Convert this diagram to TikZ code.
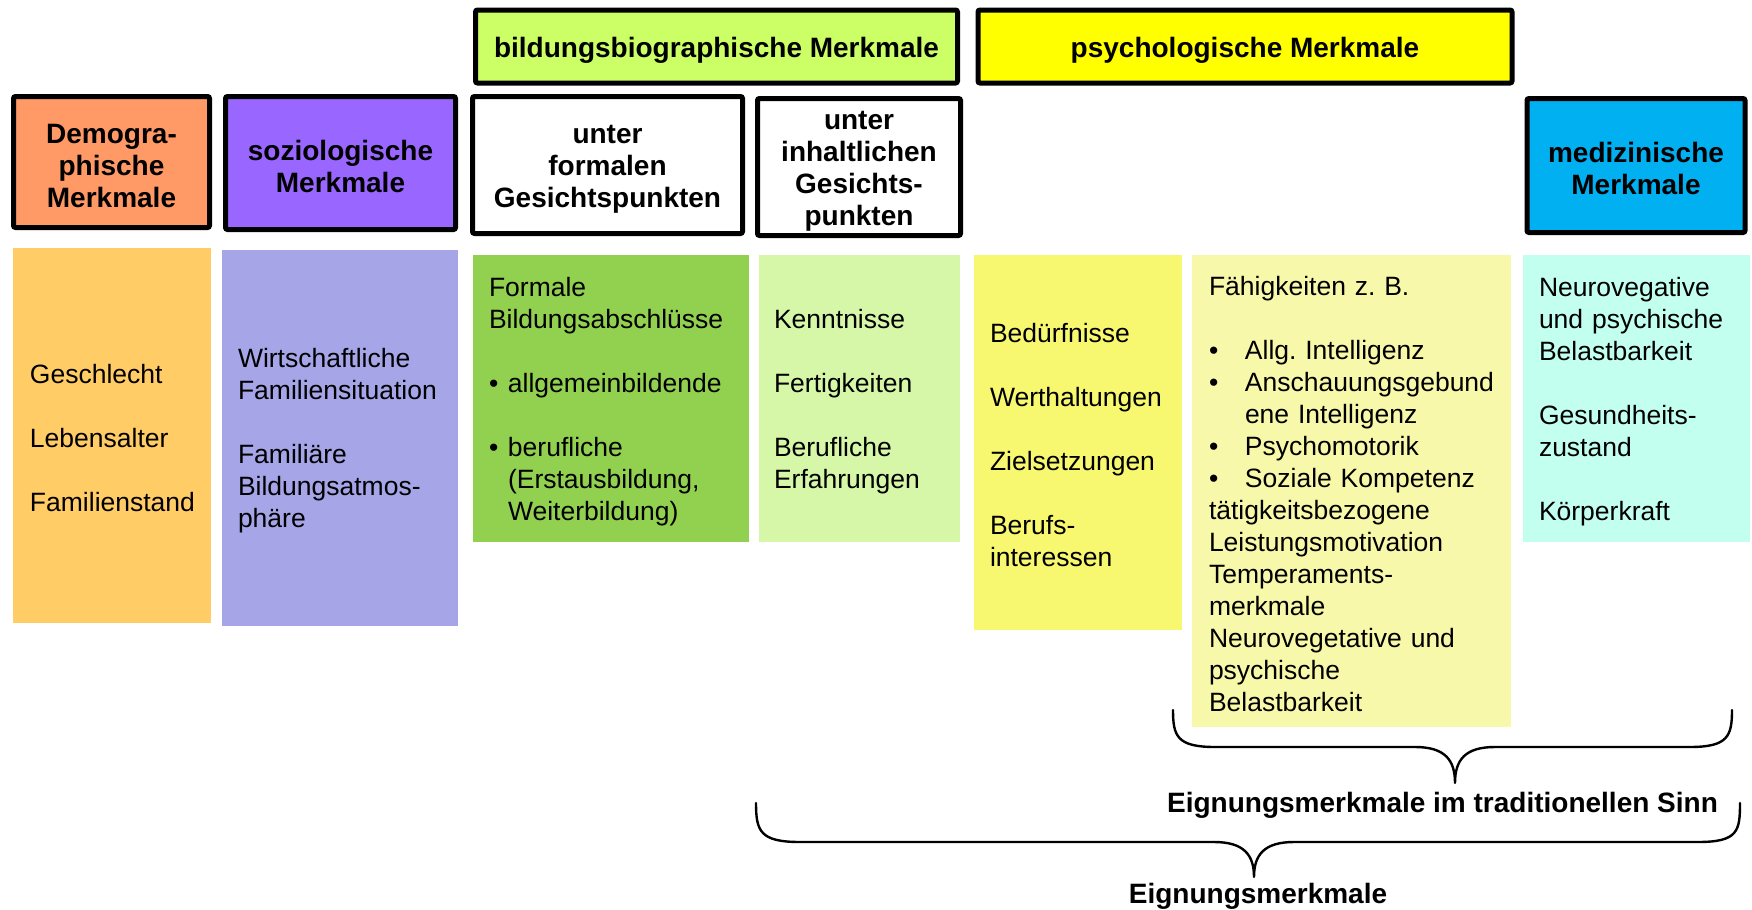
\documentclass[tikz,border=0pt]{standalone}
\usepackage{fontspec}
\setmainfont{Liberation Sans}
\hyphenpenalty=10000
\exhyphenpenalty=10000
\frenchspacing
\definecolor{demoHdr}{HTML}{FF9966}
\definecolor{soziHdr}{HTML}{9966FF}
\definecolor{bildHdr}{HTML}{CCFF66}
\definecolor{psyHdr}{HTML}{FFFF00}
\definecolor{medHdr}{HTML}{00B0F0}
\definecolor{orangeC}{HTML}{FFCC66}
\definecolor{lavC}{HTML}{A5A5E8}
\definecolor{greenC}{HTML}{92D050}
\definecolor{lgreenC}{HTML}{D6F7A8}
\definecolor{yellowC}{HTML}{F8F870}
\definecolor{pyellowC}{HTML}{F8F8AA}
\definecolor{cyanC}{HTML}{C2FFEF}
\newcommand{\gbul}{\makebox[9.5pt][l]{•}}
\newcommand{\pbul}{\makebox[18pt][l]{•}}
\newcommand{\ctopstrut}{\rule{0pt}{12.3pt}}
\newcommand{\htopstrut}{\rule{0pt}{13.5pt}}
\newcommand{\sgltopstrut}{\rule{0pt}{14.2pt}}
\begin{document}
\begin{tikzpicture}[x=0.5pt,y=-0.5pt,
  hdr/.style={draw=black, line width=2.5pt, rounded corners=1pt, align=center, inner sep=0pt,
    font=\fontsize{14pt}{16pt}\selectfont\bfseries},
  cbox/.style={align=left, inner ysep=0pt, font=\fontsize{13.25pt}{16pt}\selectfont},
  lbl/.style={font=\fontsize{14pt}{16pt}\selectfont\bfseries, inner sep=0pt},
  brace/.style={line width=1.2pt, line join=round, line cap=round}
]
\useasboundingbox (0,0) rectangle (1752,910);
\fill[white] (0,0) rectangle (1752,910);

% header boxes
\node[hdr, fill=demoHdr, minimum width=98pt, minimum height=65.5pt] (demo) at (111.5,162) {\htopstrut Demogra-\\phische\\Merkmale};
\node[hdr, fill=soziHdr, minimum width=115pt, minimum height=66.5pt] (sozi) at (340.5,163) {\htopstrut soziologische\\Merkmale};
\node[hdr, fill=bildHdr, minimum width=241pt, minimum height=36.5pt] (bild) at (716.5,46.5) {\sgltopstrut bildungsbiographische Merkmale};
\node[hdr, fill=white, minimum width=135pt, minimum height=68.5pt] (formal) at (607.5,165) {\htopstrut unter\\formalen\\Gesichtspunkten};
\node[hdr, fill=white, minimum width=101.5pt, minimum height=68.5pt] (inhalt) at (859,167) {\htopstrut unter\\inhaltlichen\\Gesichts-\\punkten};
\node[hdr, fill=psyHdr, minimum width=267pt, minimum height=36.5pt] (psych) at (1245,46.5) {\sgltopstrut psychologische Merkmale};
\node[hdr, fill=medHdr, minimum width=109pt, minimum height=67pt] (medi) at (1636,165.5) {\htopstrut medizinische\\Merkmale};

% content boxes
\node[cbox, fill=orangeC, text width=82pt, inner xsep=8.5pt, minimum height=187.5pt] (demoC) at (112,435.5)
  {\ctopstrut Geschlecht\\[16pt]Lebensalter\\[16pt]Familienstand};
\node[cbox, fill=lavC, text width=102pt, inner xsep=8pt, minimum height=188pt] (soziC) at (340,438)
  {\ctopstrut Wirtschaftliche\\Familiensituation\\[16pt]Familiäre\\Bildungsatmos-\\phäre};
\node[cbox, fill=greenC, text width=122pt, inner xsep=8pt, minimum height=143.5pt] (formalC) at (611,398.5)
  {\ctopstrut Formale\\Bildungsabschlüsse\\[16pt]\gbul allgemeinbildende\\[16pt]\gbul berufliche\\\hspace*{9.5pt}(Erstausbildung,\\\hspace*{9.5pt}Weiterbildung)};
\node[cbox, fill=lgreenC, text width=85.5pt, inner xsep=7.5pt, minimum height=143.5pt] (inhaltC) at (859.5,398.5)
  {\ctopstrut Kenntnisse\\[16pt]Fertigkeiten\\[16pt]Berufliche\\Erfahrungen};
\node[cbox, fill=yellowC, text width=88pt, inner xsep=8pt, minimum height=187.5pt] (psychC) at (1078,442.5)
  {\ctopstrut Bedürfnisse\\[16pt]Werthaltungen\\[16pt]Zielsetzungen\\[16pt]Berufs-\\interessen};
\node[cbox, fill=pyellowC, text width=142.5pt, inner xsep=8.5pt, minimum height=236pt] (faehC) at (1351.5,491)
  {\ctopstrut Fähigkeiten z. B.\\[16pt]\pbul Allg. Intelligenz\\\pbul Anschauungsgebund\\\hspace*{18pt}ene Intelligenz\\\pbul Psychomotorik\\\pbul Soziale Kompetenz\\tätigkeitsbezogene\\Leistungsmotivation\\Temperaments-\\merkmale\\Neurovegetative und\\psychische\\Belastbarkeit};
\node[cbox, fill=cyanC, text width=97.5pt, inner xsep=8pt, minimum height=143.5pt] (mediC) at (1636.5,398.5)
  {\ctopstrut Neurovegative\\und psychische\\Belastbarkeit\\[16pt]Gesundheits-\\zustand\\[16pt]Körperkraft};

% braces
\coordinate (b1l) at (1173,710);
\coordinate (b1a) at (1215,747);
\coordinate (b1b) at (1415,747);
\coordinate (b1t) at (1455,783);
\coordinate (b1c) at (1495,747);
\coordinate (b1d) at (1690,747);
\coordinate (b1r) at (1732,710);
\draw[brace] (b1l) .. controls +(0,26) and +(-38,0) .. (b1a) -- (b1b)
  .. controls +(30,0) and +(0,-23) .. (b1t)
  .. controls +(0,-23) and +(-30,0) .. (b1c) -- (b1d)
  .. controls +(38,0) and +(0,26) .. (b1r);

\coordinate (b2l) at (756,803);
\coordinate (b2a) at (800,842);
\coordinate (b2b) at (1214,842);
\coordinate (b2t) at (1254,877);
\coordinate (b2c) at (1294,842);
\coordinate (b2d) at (1698,842);
\coordinate (b2r) at (1740,803);
\draw[brace] (b2l) .. controls +(0,28) and +(-40,0) .. (b2a) -- (b2b)
  .. controls +(30,0) and +(0,-22) .. (b2t)
  .. controls +(0,-22) and +(-30,0) .. (b2c) -- (b2d)
  .. controls +(40,0) and +(0,28) .. (b2r);

\node[lbl, anchor=base] (tradlbl) at (1442.5,812) {Eignungsmerkmale im traditionellen Sinn};
\node[lbl, anchor=base] (eiglbl) at (1258,903) {Eignungsmerkmale};
\end{tikzpicture}
\end{document}
